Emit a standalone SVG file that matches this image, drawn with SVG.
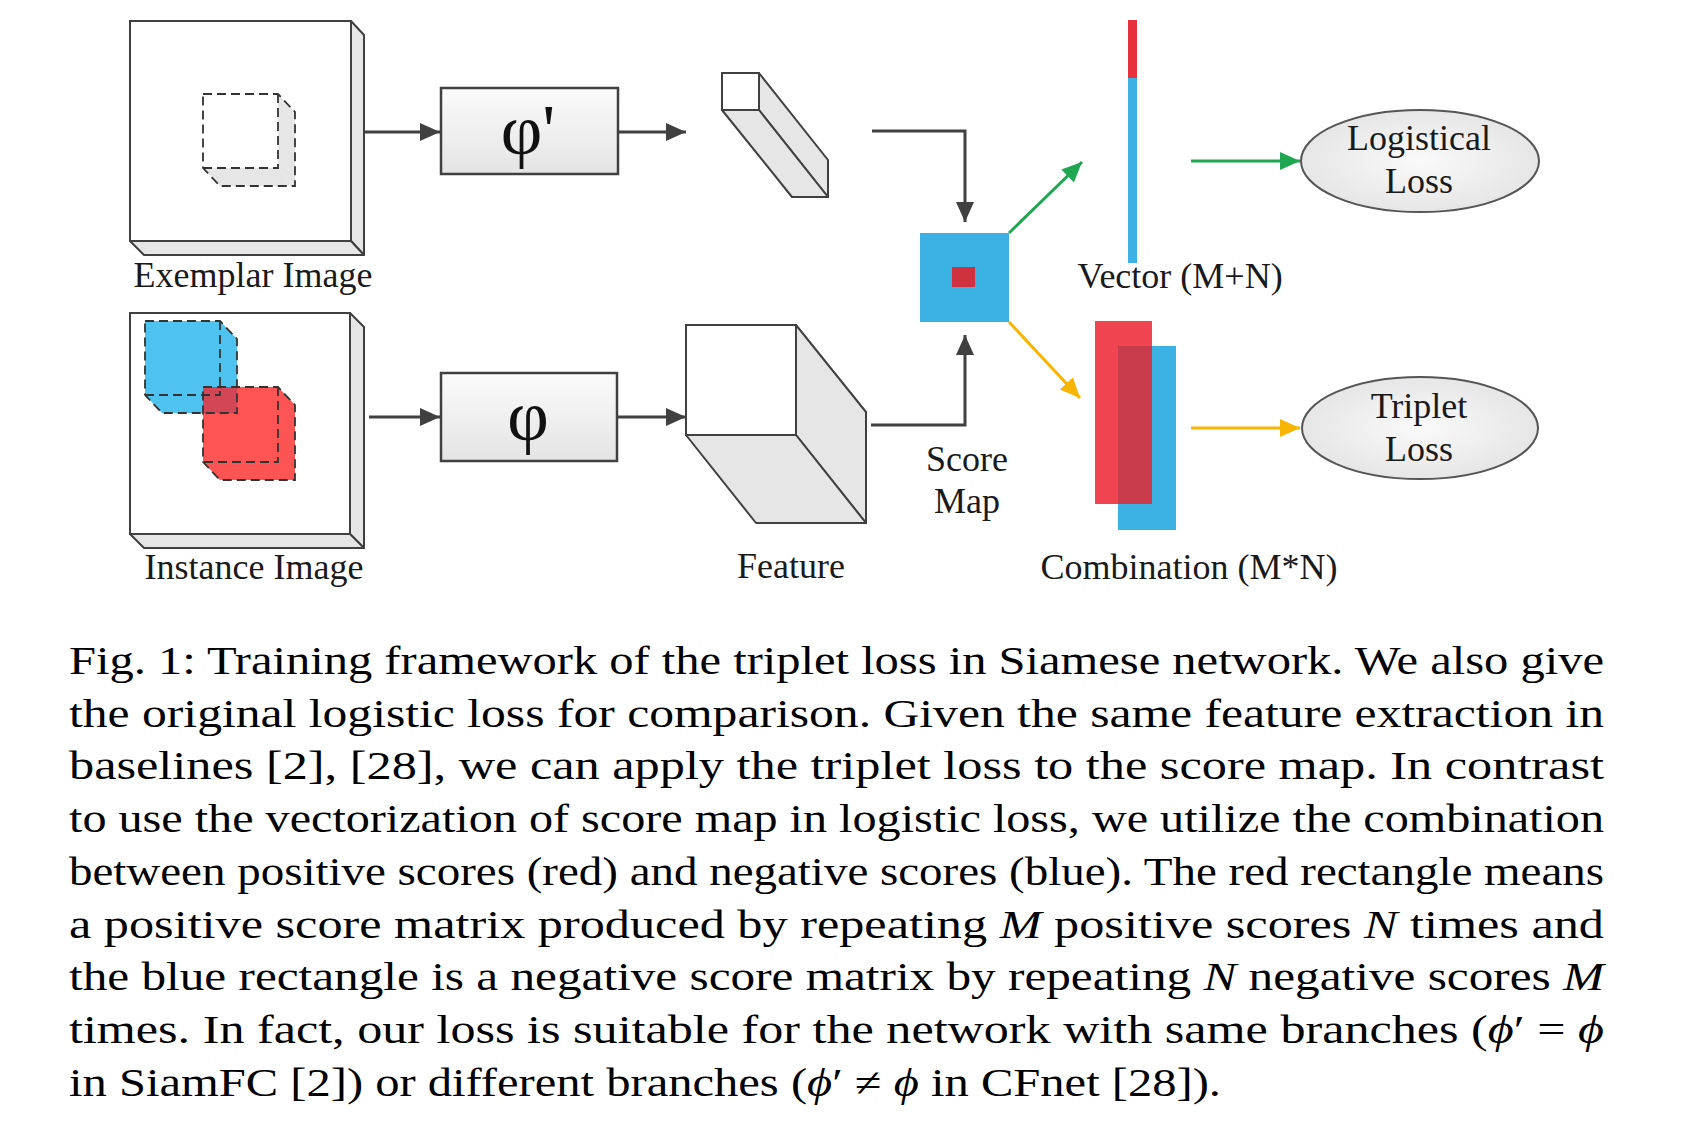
<svg xmlns="http://www.w3.org/2000/svg" width="1694" height="1136" viewBox="0 0 1694 1136">
<style>
.lbl{font-family:"Liberation Serif","Times New Roman",serif;font-size:36px;fill:#1a1a1a;text-anchor:middle}
.phi{font-family:"Liberation Serif","Times New Roman",serif;font-size:72px;fill:#111;text-anchor:middle}
.cap{font-family:"Liberation Serif","Times New Roman",serif;font-size:40px;fill:#000}
.edge{fill:none;stroke:#404040;stroke-width:3}
.frame{fill:#fff;stroke:#404040;stroke-width:2}
.depth{fill:#e6e6e6;stroke:#404040;stroke-width:2;stroke-linejoin:round}
.dash{fill:none;stroke:#333;stroke-width:1.8;stroke-dasharray:9 5}
</style>
<defs>
<linearGradient id="boxg" x1="0" y1="0" x2="0" y2="1">
<stop offset="0" stop-color="#fbfbfb"/><stop offset="1" stop-color="#e4e4e4"/>
</linearGradient>
<radialGradient id="ellg" cx="0.5" cy="0.5" r="0.6">
<stop offset="0" stop-color="#fafafa"/><stop offset="1" stop-color="#e2e2e2"/>
</radialGradient>
<marker id="ag" markerUnits="userSpaceOnUse" markerWidth="22" markerHeight="20" refX="20" refY="9" orient="auto">
<path d="M0,0 L20,9 L0,18 z" fill="#404040"/>
</marker>
<marker id="agr" markerUnits="userSpaceOnUse" markerWidth="22" markerHeight="20" refX="20" refY="9" orient="auto">
<path d="M0,0 L20,9 L0,18 z" fill="#1fa651"/>
</marker>
<marker id="ay" markerUnits="userSpaceOnUse" markerWidth="22" markerHeight="20" refX="20" refY="9" orient="auto">
<path d="M0,0 L20,9 L0,18 z" fill="#f7b500"/>
</marker>
</defs>

<g id="exemplar-image">
<polygon class="depth" points="351,21 364,35 364,255 351,241"/>
<polygon class="depth" points="130,241 351,241 364,255 144,255"/>
<rect class="frame" x="130" y="21" width="221" height="220"/>
<polygon points="278,94 295,112 295,186 278,168" fill="#e6e6e6"/>
<polygon points="203,168 278,168 295,186 220,186" fill="#e6e6e6"/>
<polygon class="dash" points="203,94 278,94 295,112 295,186 220,186 203,168"/>
<path class="dash" d="M278,94 V168 H203"/>
<text class="lbl" x="253" y="287">Exemplar Image</text>
</g>

<g id="instance-image">
<polygon class="depth" points="350,313 364,327 364,548 350,534"/>
<polygon class="depth" points="130,534 350,534 364,548 144,548"/>
<rect class="frame" x="130" y="313" width="220" height="221"/>
<polygon points="145,321 220,321 237,339 237,413 162,413 145,395" fill="#4fc3f0"/>
<polygon points="203,387 278,387 295,405 295,480 220,480 203,462" fill="#ff5454"/>
<rect x="203" y="387" width="34" height="26" fill="#d24656"/>
<polygon class="dash" points="145,321 220,321 237,339 237,413 162,413 145,395"/>
<path class="dash" d="M220,321 V395 H145"/>
<polygon class="dash" points="203,387 278,387 295,405 295,480 220,480 203,462"/>
<path class="dash" d="M278,387 V462 H203"/>
<text class="lbl" x="254" y="579">Instance Image</text>
</g>

<g id="phi-prime">
<rect x="441" y="88" width="177" height="86" fill="url(#boxg)" stroke="#404040" stroke-width="2.5"/>
<text class="phi" x="528" y="154">φ'</text>
</g>

<g id="phi">
<rect x="441" y="373" width="176" height="88" fill="url(#boxg)" stroke="#404040" stroke-width="2.5"/>
<text class="phi" x="528" y="440">φ</text>
</g>

<g id="exemplar-feature">
<polygon class="depth" points="759,73 828,160 828,197 759,110"/>
<polygon class="depth" points="722,110 759,110 828,197 792,197"/>
<rect class="frame" x="722" y="73" width="37" height="37"/>
</g>

<g id="instance-feature">
<polygon class="depth" points="796,325 866,412 866,523 796,435"/>
<polygon class="depth" points="686,435 796,435 866,523 756,523"/>
<rect class="frame" x="686" y="325" width="110" height="110"/>
<text class="lbl" x="791" y="578">Feature</text>
</g>

<g id="score-map">
<rect x="920" y="233" width="89" height="89" fill="#3cb2e4"/>
<rect x="952" y="267" width="23" height="20" fill="#d1303e"/>
<text class="lbl" x="967" y="471">Score</text>
<text class="lbl" x="967" y="513">Map</text>
</g>

<g id="vector">
<rect x="1128" y="20" width="9" height="243" fill="#3cb2e4"/>
<rect x="1128" y="20" width="9" height="58" fill="#e8303c"/>
<text class="lbl" x="1180" y="288">Vector (M+N)</text>
</g>

<g id="combination">
<rect x="1118" y="346" width="58" height="184" fill="#3cb2e4"/>
<rect x="1095" y="321" width="57" height="183" fill="#f04550"/>
<rect x="1118" y="346" width="34" height="158" fill="#c93c4c"/>
<text class="lbl" x="1189" y="579">Combination (M*N)</text>
</g>

<g id="logistical-loss">
<ellipse cx="1420" cy="161" rx="119" ry="51" fill="url(#ellg)" stroke="#555" stroke-width="2"/>
<text class="lbl" x="1419" y="150">Logistical</text>
<text class="lbl" x="1419" y="193">Loss</text>
</g>

<g id="triplet-loss">
<ellipse cx="1420" cy="428" rx="118" ry="51" fill="url(#ellg)" stroke="#555" stroke-width="2"/>
<text class="lbl" x="1419" y="418">Triplet</text>
<text class="lbl" x="1419" y="461">Loss</text>
</g>

<g id="connectors">
<path class="edge" d="M365,132 H440" marker-end="url(#ag)"/>
<path class="edge" d="M618,132 H686" marker-end="url(#ag)"/>
<path class="edge" d="M369,417 H440" marker-end="url(#ag)"/>
<path class="edge" d="M617,417 H686" marker-end="url(#ag)"/>
<path class="edge" d="M872,131 H965 V222" marker-end="url(#ag)"/>
<path class="edge" d="M871,425 H965 V335" marker-end="url(#ag)"/>
<path d="M1009,233 L1082,162" fill="none" stroke="#1fa651" stroke-width="3" marker-end="url(#agr)"/>
<path d="M1191,161 H1300" fill="none" stroke="#1fa651" stroke-width="3" marker-end="url(#agr)"/>
<path d="M1009,322 L1080,398" fill="none" stroke="#f7b500" stroke-width="3" marker-end="url(#ay)"/>
<path d="M1191,428 H1300" fill="none" stroke="#f7b500" stroke-width="3" marker-end="url(#ay)"/>
</g>

<g id="caption">
<text class="cap" x="69" y="674" textLength="1535" lengthAdjust="spacingAndGlyphs">Fig. 1: Training framework of the triplet loss in Siamese network. We also give</text>
<text class="cap" x="69" y="727" textLength="1535" lengthAdjust="spacingAndGlyphs">the original logistic loss for comparison. Given the same feature extraction in</text>
<text class="cap" x="69" y="779" textLength="1535" lengthAdjust="spacingAndGlyphs">baselines [2], [28], we can apply the triplet loss to the score map. In contrast</text>
<text class="cap" x="69" y="832" textLength="1535" lengthAdjust="spacingAndGlyphs">to use the vectorization of score map in logistic loss, we utilize the combination</text>
<text class="cap" x="69" y="885" textLength="1535" lengthAdjust="spacingAndGlyphs">between positive scores (red) and negative scores (blue). The red rectangle means</text>
<text class="cap" x="69" y="938" textLength="1535" lengthAdjust="spacingAndGlyphs">a positive score matrix produced by repeating <tspan font-style="italic">M</tspan> positive scores <tspan font-style="italic">N</tspan> times and</text>
<text class="cap" x="69" y="990" textLength="1535" lengthAdjust="spacingAndGlyphs">the blue rectangle is a negative score matrix by repeating <tspan font-style="italic">N</tspan> negative scores <tspan font-style="italic">M</tspan></text>
<text class="cap" x="69" y="1043" textLength="1535" lengthAdjust="spacingAndGlyphs">times. In fact, our loss is suitable for the network with same branches (<tspan font-style="italic">ϕ</tspan>′ = <tspan font-style="italic">ϕ</tspan></text>
<text class="cap" x="69" y="1096" textLength="1152" lengthAdjust="spacingAndGlyphs">in SiamFC [2]) or different branches (<tspan font-style="italic">ϕ</tspan>′ ≠ <tspan font-style="italic">ϕ</tspan> in CFnet [28]).</text>
</g>
</svg>
